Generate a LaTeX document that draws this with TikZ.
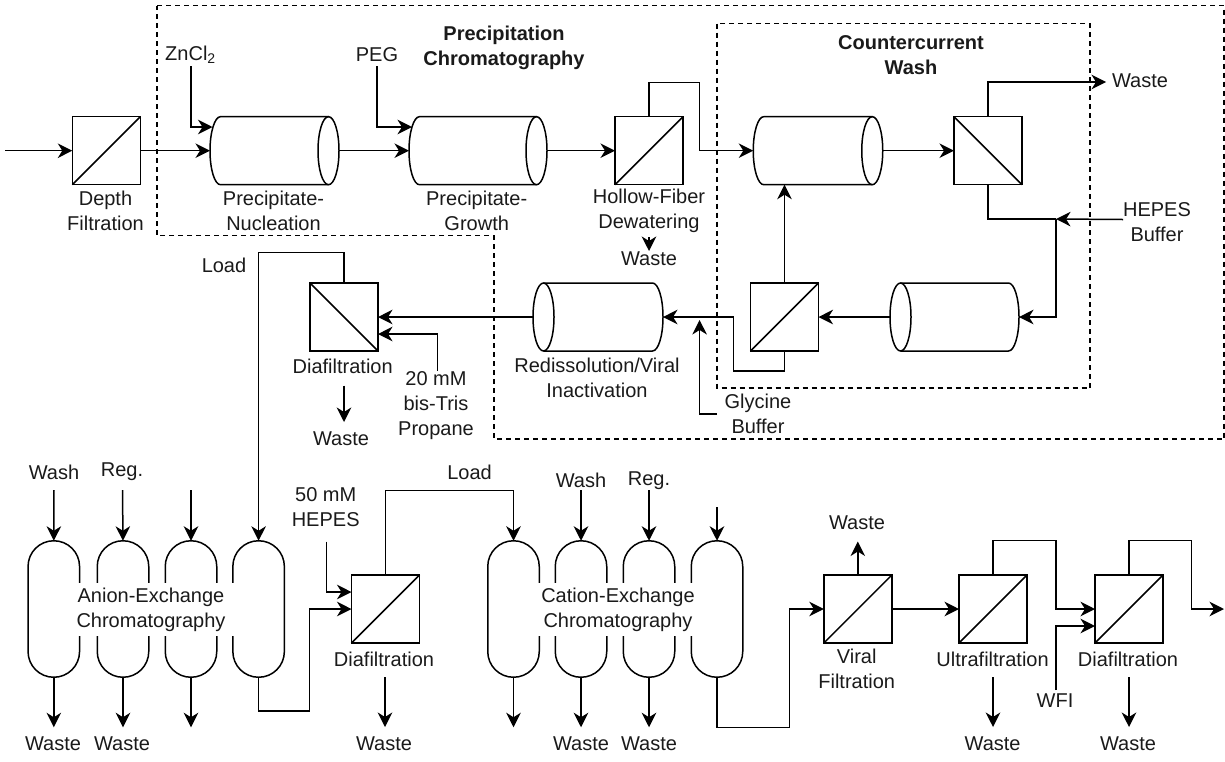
\documentclass[tikz,border=0pt]{standalone}
\usepackage{fontspec}
\setmainfont{Liberation Sans}
\usetikzlibrary{arrows.meta,calc}
\definecolor{ink}{HTML}{1A1A1A}
\tikzset{
  line/.style={line width=1.5pt,draw=black,line join=miter},
  flow/.style={line,-{Stealth[length=14.5pt,width=14.5pt,inset=4.5pt]}},
  filt/.style={line,rectangle,minimum width=68pt,minimum height=68pt,inner sep=0pt,outer sep=0pt},
  column/.style={line,rectangle,rounded corners=25.7pt,minimum width=51.5pt,minimum height=136.5pt,inner sep=0pt,outer sep=0pt},
  tankbody/.style={rectangle,inner sep=0pt,outer sep=0pt,minimum height=68pt},
  lbl/.style={inner sep=0pt,outer sep=0pt,align=center,text=ink,font=\fontsize{20}{25}\selectfont},
  hdr/.style={lbl,font=\fontsize{20}{25}\selectfont\bfseries},
  mask/.style={lbl,fill=white,minimum width=168pt,minimum height=53pt},
  zone/.style={line width=1.3pt,draw=black,dash pattern=on 5pt off 4pt},
}
% filter with rising diagonal / falling diagonal
\newcommand{\filtU}[3]{\node[filt] (#1) at (#2,#3) {}; \draw[line] (#1.south west) -- (#1.north east);}
\newcommand{\filtD}[3]{\node[filt] (#1) at (#2,#3) {}; \draw[line] (#1.north west) -- (#1.south east);}
% tank: name, centre x, centre y, width; cap on right or left
\newcommand{\tankR}[4]{\node[tankbody,minimum width=#4pt] (#1) at (#2,#3) {};
  \draw[line] ($(#1.north east)+(-10.5pt,0)$) -- ($(#1.north west)+(10.5pt,0)$) arc[start angle=90,end angle=270,x radius=10.5pt,y radius=34pt] -- ($(#1.south east)+(-10.5pt,0)$);
  \draw[line] ($(#1.east)+(-10.5pt,0)$) ellipse[x radius=10.5pt,y radius=34pt];}
\newcommand{\tankL}[4]{\node[tankbody,minimum width=#4pt] (#1) at (#2,#3) {};
  \draw[line] ($(#1.north west)+(10.5pt,0)$) -- ($(#1.north east)+(-10.5pt,0)$) arc[start angle=90,end angle=-90,x radius=10.5pt,y radius=34pt] -- ($(#1.south west)+(10.5pt,0)$);
  \draw[line] ($(#1.west)+(10.5pt,0)$) ellipse[x radius=10.5pt,y radius=34pt];}
\begin{document}
\begin{tikzpicture}[x=1pt,y=-1pt]
\useasboundingbox (0,0) rectangle (1225,761);
% ---- units
\filtU{depth}{106.3}{150.7}
\tankR{nuc}{274.5}{150.7}{129}
\tankR{gro}{478}{150.7}{138}
\filtU{hf}{649}{150.7}
\tankR{wt}{818}{150.7}{129.5}
\filtD{wf}{988}{150.7}
\tankL{wb}{954.5}{317}{129}
\filtU{cf}{784.5}{317}
\tankL{red}{598}{317}{130}
\filtD{dfa}{344}{317}
\node[column] (a1) at (53.8,609) {};
\node[column] (a2) at (123,609) {};
\node[column] (a3) at (191,609) {};
\node[column] (a4) at (258.6,609) {};
\node[column] (c1) at (513.5,609) {};
\node[column] (c2) at (581,609) {};
\node[column] (c3) at (649,609) {};
\node[column] (c4) at (717,609) {};
\filtU{dfb}{385.5}{609}
\filtU{vf}{857.8}{609}
\filtU{uf}{993}{609}
\filtU{dfc}{1129}{609}
% ---- zones
\draw[zone] (157,5.5) -- (1224,5.5) -- (1224,439) -- (494,439) -- (494,235.5) -- (157,235.5) -- cycle;
\draw[zone] (717,23.5) rectangle (1090,388);
% ---- masks with column labels
\node[mask] (aex) at (151,609.5) {Anion-Exchange\\Chromatography};
\node[mask] (cex) at (618,609.5) {Cation-Exchange\\Chromatography};
% ---- labels
\node[lbl] (tdepth) at (105.5,210.5) {Depth\\Filtration};
\node[lbl] (tnuc) at (273.5,210.5) {Precipitate-\\Nucleation};
\node[lbl] (tgro) at (476.7,210.5) {Precipitate-\\Growth};
\node[lbl] (thf) at (649,210.5) {Hollow-Fiber\\Dewatering};
\node[lbl] (thw) at (649,258.5) {Waste};
\node[lbl] (tzn) at (190.5,55) {ZnCl\textsubscript{2}};
\node[lbl] (tpeg) at (377,55) {PEG};
\node[hdr] (tpc) at (504,47.5) {Precipitation\\Chromatography};
\node[hdr] (tcw) at (911,55.5) {Countercurrent\\Wash};
\node[lbl] (twt) at (1140,80.5) {Waste};
\node[lbl] (thep) at (1157,222) {HEPES\\Buffer};
\node[lbl] (tgly) at (758,414) {Glycine\\Buffer};
\node[lbl] (tred) at (597,378) {Redissolution/Viral\\Inactivation};
\node[lbl] (tload) at (224,265) {Load};
\node[lbl] (tdfa) at (342.7,366.5) {Diafiltration};
\node[lbl] (tdfaw) at (341,438.5) {Waste};
\node[lbl] (tbis) at (436,405.5) {20 mM\\bis-Tris\\Propane};
\node[lbl] (tw1) at (54,472) {Wash};
\node[lbl] (tr1) at (122,472) {Reg.};
\node[lbl] (tw1o) at (53,744) {Waste};
\node[lbl] (tw2o) at (122,744) {Waste};
\node[lbl] (thep2) at (325.7,507) {50 mM\\HEPES};
\node[lbl] (tdfb) at (384,659) {Diafiltration};
\node[lbl] (tdfbw) at (384,744) {Waste};
\node[lbl] (tload2) at (469.6,472) {Load};
\node[lbl] (tw3) at (581,480.5) {Wash};
\node[lbl] (tr3) at (649,481) {Reg.};
\node[lbl] (tw3o) at (581,744) {Waste};
\node[lbl] (tw4o) at (649,744) {Waste};
\node[lbl] (tvw) at (857,523) {Waste};
\node[lbl] (tvf) at (856.7,668.5) {Viral\\Filtration};
\node[lbl] (tuf) at (992.6,659) {Ultrafiltration};
\node[lbl] (tufw) at (992.6,744) {Waste};
\node[lbl] (twfi) at (1055,700.5) {WFI};
\node[lbl] (tdfc) at (1128,659) {Diafiltration};
\node[lbl] (tdfcw) at (1128,744) {Waste};
% ---- free ends and stubs
\coordinate (in0) at (5,150.7);
\coordinate (zn0) at (191,66);
\coordinate (zn1) at (212.5,127);
\coordinate (peg0) at (377,66);
\coordinate (peg1) at (412,127);
\coordinate (hw0) at (649,237);
\coordinate (hw1) at (649,251);
\coordinate (wasteT) at (1106,82);
\coordinate (hep0) at (1123,219.5);
\coordinate (jn) at (1056,219);
\coordinate (gly0) at (717,414);
\coordinate (gly1) at (699.6,320);
\coordinate (bis0) at (437.3,370.5);
\coordinate (bis1) at (378,334);
\coordinate (dw0) at (344,385.5);
\coordinate (dw1) at (344,422);
\coordinate (he0) at (326.5,541.5);
\coordinate (he1) at (351.5,592);
% ---- connectors, row 1
\draw[flow] (in0) -- (depth.west);
\draw[flow] (depth.east) -- (nuc.west);
\draw[flow] (zn0) |- (zn1);
\draw[flow] (nuc.east) -- (gro.west);
\draw[flow] (peg0) |- (peg1);
\draw[flow] (gro.east) -- (hf.west);
\draw[flow] (hf.north) -- ++(0,-34) -| (699.6,150.7) -- (wt.west);
\draw[flow] (hw0) -- (hw1);
\draw[flow] (wt.east) -- (wf.west);
\draw[flow] (wf.north) |- (wasteT);
\draw[line] (wf.south) |- (jn);
\draw[flow] (jn) |- (wb.east);
\draw[flow] (hep0) -- (jn);
\draw[flow] (wb.west) -- (cf.east);
\draw[flow] (cf.north) -- (wt.south -| cf.north);
\draw[flow] (cf.south) -- ++(0,20) -| (733.5,317) -- (red.east);
\draw[flow] (gly0) -| (gly1);
\draw[flow] (red.west) -- (dfa.east);
\draw[flow] (bis0) |- (bis1);
\draw[flow] (dw0) -- (dw1);
\draw[flow] (dfa.north) -- ++(0,-30.5) -| (a4.north);
% ---- anion columns
\draw[flow] (54,490) -- (a1.north);
\draw[flow] (122.5,490) -- (a2.north);
\draw[flow] (191,490) -- (a3.north);
\draw[flow] (a1.south) -- ++(0,50);
\draw[flow] (a2.south) -- ++(0,50);
\draw[flow] (a3.south) -- ++(0,50);
\draw[flow] (a4.south) -- ++(0,33.5) -| (309.5,609) -- (dfb.west);
\draw[flow] (he0) |- (he1);
\draw[flow] (dfb.north) -- ++(0,-84.5) -| (c1.north);
\draw[flow] (385,677) -- ++(0,50);
% ---- cation columns
\draw[flow] (581,490) -- (c2.north);
\draw[flow] (649,490) -- (c3.north);
\draw[flow] (717,507) -- (c4.north);
\draw[flow] (c1.south) -- ++(0,50);
\draw[flow] (c2.south) -- ++(0,50);
\draw[flow] (c3.south) -- ++(0,50);
\draw[flow] (c4.south) -- ++(0,50) -| (789.7,609) -- (vf.west);
\draw[flow] (vf.north) -- ++(0,-33.5);
\draw[flow] (vf.east) -- (uf.west);
\draw[flow] (993,677) -- ++(0,50);
\draw[flow] (uf.north) -- ++(0,-34.5) -| (1056,609) -- (dfc.west);
\draw[flow] (1056,690) |- (1095,626);
\draw[flow] (1129,677) -- ++(0,50);
\draw[flow] (dfc.north) -- ++(0,-34.5) -| (1191.5,609) -- (1224,609);
\end{tikzpicture}
\end{document}
